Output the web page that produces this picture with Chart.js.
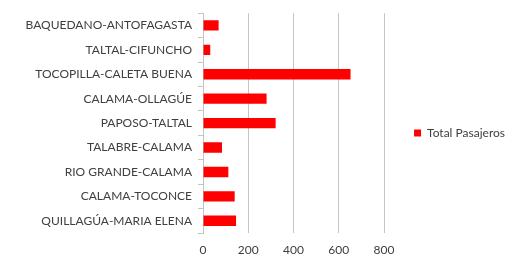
<!DOCTYPE html>
<html lang="es">
<head>
  <meta charset="UTF-8">
  <title>Total Pasajeros</title>
  <script src="https://cdn.jsdelivr.net/npm/chart.js"></script>
  <style>
    body { margin: 0; background: #fff; }
  </style>
</head>
<body>
  <canvas id="myChart" width="525" height="260"></canvas>

  <script>
    // Datos del grafico
    const routes = [
      'BAQUEDANO-ANTOFAGASTA',
      'TALTAL-CIFUNCHO',
      'TOCOPILLA-CALETA BUENA',
      'CALAMA-OLLAGÚE',
      'PAPOSO-TALTAL',
      'TALABRE-CALAMA',
      'RIO GRANDE-CALAMA',
      'CALAMA-TOCONCE',
      'QUILLAGÚA-MARIA ELENA'
    ];
    const totalPasajeros = [69, 32, 652, 281, 321, 84, 112, 140, 146];
    const xTicks = [0, 200, 400, 600, 800];

    const textColor = '#404040';
    const gridColor = '#c4c4c4';
    const font = { family: 'Lato', size: 12 };

    // espacio extra entre el area del grafico y la leyenda
    const legendGap = 24;
    const legendGapPlugin = {
      id: 'legendGap',
      beforeInit(chart) {
        const fit = chart.legend.fit;
        chart.legend.fit = function () {
          fit.call(this);
          this.width += legendGap;
        };
      },
      afterLayout(chart) {
        chart.legend.left += legendGap;
      }
    };

    const ctx = document.getElementById('myChart').getContext('2d');
    new Chart(ctx, {
      type: 'bar',
      data: {
        labels: routes,
        datasets: [{
          label: 'Total Pasajeros',
          data: totalPasajeros,
          backgroundColor: '#ff0000',
          borderWidth: 0,
          barPercentage: 0.85,
          categoryPercentage: 0.5
        }]
      },
      plugins: [legendGapPlugin],
      options: {
        indexAxis: 'y',
        responsive: false,
        animation: false,
        layout: { padding: { top: 6, left: 0, right: 10, bottom: 0 } },
        plugins: {
          legend: {
            position: 'right',
            labels: {
              boxWidth: 7,
              boxHeight: 7,
              color: textColor,
              font: font,
              padding: 6
            }
          },
          tooltip: { enabled: false }
        },
        scales: {
          x: {
            min: 0,
            max: 800,
            afterBuildTicks: axis => { axis.ticks = xTicks.map(v => ({ value: v })); },
            grid: { color: gridColor, drawTicks: false },
            border: { display: false },
            ticks: { color: textColor, font: font, padding: 10 },
            afterFit: axis => { axis.height = 27; }
          },
          y: {
            grid: {
              offset: true,
              drawOnChartArea: false,
              drawTicks: true,
              tickLength: 5,
              color: gridColor
            },
            border: { display: true, color: gridColor },
            ticks: { color: textColor, font: font, padding: 6 },
            afterFit: axis => { axis.width = 203; }
          }
        }
      }
    });
  </script>
</body>
</html>
